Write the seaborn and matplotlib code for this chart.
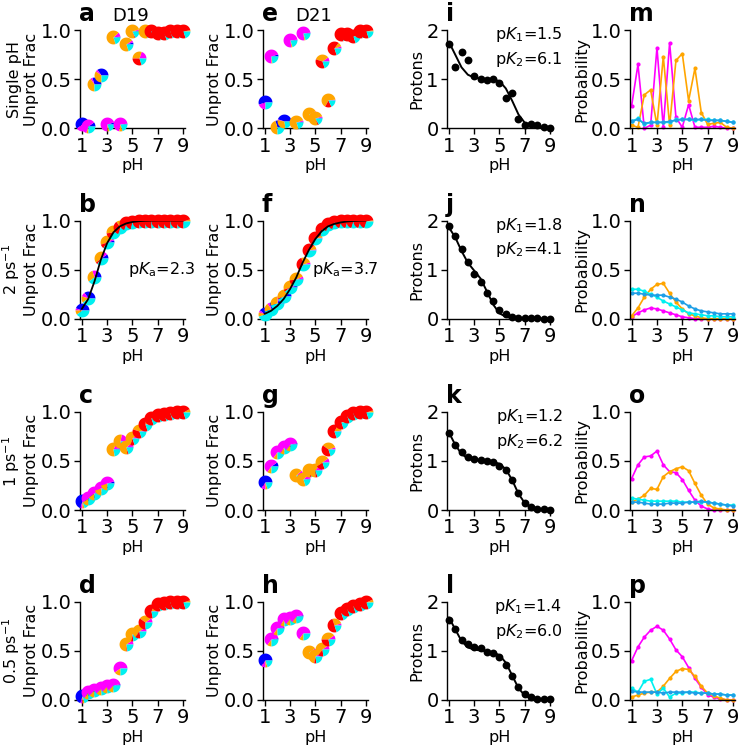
"""Constant-pH titration panels: pie-marker fractions, proton counts, state probabilities."""

import matplotlib

matplotlib.use("Agg")
import matplotlib.pyplot as plt
import numpy as np
import seaborn as sns


BLUE = "#0000FF"
MAGENTA = "#FF00FF"
ORANGE = "#FFA500"
RED = "#FF0000"
CYAN = "#00F0F0"
SKY = "#1E9FE6"
PIE_COLORS = [BLUE, MAGENTA, ORANGE, RED, CYAN]

PH = [1.0, 1.5, 2.0, 2.5, 3.0, 3.5, 4.0, 4.5, 5.0, 5.5, 6.0, 6.5, 7.0, 7.5, 8.0, 8.5, 9.0]

# unprotonated fraction, D19 column
A_FRAC = [0.04, 0.02, 0.45, 0.54, 0.04, 0.93, 0.04, 0.86, 0.99, 0.72, 0.99, 0.99, 0.97, 0.97, 0.99, 0.99, 0.99]
B_FRAC = [0.09, 0.21, 0.42, 0.62, 0.78, 0.88, 0.93, 0.97, 0.98, 0.99, 1.0, 1.0, 1.0, 1.0, 1.0, 1.0, 1.0]
C_FRAC = [0.09, 0.12, 0.17, 0.22, 0.27, 0.62, 0.70, 0.64, 0.73, 0.80, 0.88, 0.94, 0.97, 0.98, 0.99, 1.0, 1.0]
D_FRAC = [0.04, 0.08, 0.10, 0.12, 0.14, 0.15, 0.33, 0.57, 0.67, 0.70, 0.79, 0.91, 0.98, 0.99, 1.0, 1.0, 1.0]
# unprotonated fraction, D21 column
E_FRAC = [0.27, 0.74, 0.01, 0.07, 0.90, 0.06, 0.97, 0.15, 0.10, 0.68, 0.29, 0.82, 0.96, 0.96, 0.94, 0.99, 0.99]
F_FRAC = [0.05, 0.10, 0.16, 0.23, 0.32, 0.40, 0.56, 0.70, 0.82, 0.91, 0.96, 0.98, 0.99, 1.0, 1.0, 1.0, 1.0]
G_FRAC = [0.29, 0.45, 0.59, 0.64, 0.67, 0.36, 0.32, 0.41, 0.41, 0.49, 0.62, 0.80, 0.90, 0.96, 0.99, 1.0, 1.0]
H_FRAC = [0.41, 0.62, 0.73, 0.82, 0.83, 0.85, 0.68, 0.49, 0.45, 0.52, 0.62, 0.76, 0.89, 0.93, 0.96, 0.98, 1.0]

B_FIT = [0.10, 0.20, 0.38, 0.60, 0.77, 0.88, 0.94, 0.97, 0.985, 0.993, 0.997, 0.999, 1.0, 1.0, 1.0, 1.0, 1.0]
F_FIT = [0.05, 0.08, 0.13, 0.20, 0.30, 0.42, 0.57, 0.70, 0.81, 0.89, 0.94, 0.965, 0.98, 0.99, 0.995, 0.998, 1.0]
B_PKA = "2.3"
F_PKA = "3.7"

# pie wedge shares: blue, magenta, orange, red, cyan
A_PIE = [[0.6, 0.2, 0, 0, 0.2], [0.1, 0.6, 0.05, 0, 0.25], [0.3, 0.05, 0.4, 0, 0.25], [0.35, 0.05, 0.35, 0, 0.25],
         [0.05, 0.7, 0.05, 0, 0.2], [0.02, 0.1, 0.68, 0, 0.2], [0.02, 0.7, 0.08, 0, 0.2], [0.05, 0.05, 0.7, 0, 0.2],
         [0.02, 0.03, 0.75, 0.02, 0.18], [0, 0.2, 0.3, 0.3, 0.2], [0, 0.02, 0.78, 0, 0.2], [0, 0, 0.1, 0.7, 0.2],
         [0, 0, 0.05, 0.75, 0.2], [0, 0, 0.05, 0.75, 0.2], [0, 0, 0.05, 0.75, 0.2], [0, 0, 0.03, 0.77, 0.2],
         [0, 0, 0.03, 0.77, 0.2]]
B_PIE = [[0.45, 0.05, 0.1, 0, 0.4], [0.35, 0.1, 0.15, 0, 0.4], [0.2, 0.1, 0.3, 0, 0.4], [0.1, 0.1, 0.4, 0.05, 0.35],
         [0.05, 0.05, 0.45, 0.1, 0.35], [0.02, 0.05, 0.45, 0.15, 0.33], [0.02, 0.03, 0.3, 0.35, 0.3],
         [0, 0.02, 0.15, 0.53, 0.3], [0, 0.01, 0.1, 0.6, 0.29], [0, 0, 0.05, 0.7, 0.25], [0, 0, 0.05, 0.7, 0.25],
         [0, 0, 0.05, 0.7, 0.25], [0, 0, 0.05, 0.7, 0.25], [0, 0, 0.05, 0.7, 0.25], [0, 0, 0.05, 0.7, 0.25],
         [0, 0, 0.05, 0.7, 0.25], [0, 0, 0.05, 0.7, 0.25]]
C_PIE = [[0.7, 0.05, 0.05, 0, 0.2], [0.15, 0.45, 0.15, 0, 0.25], [0.1, 0.5, 0.15, 0, 0.25], [0.05, 0.5, 0.2, 0, 0.25],
         [0.05, 0.5, 0.2, 0, 0.25], [0.03, 0.15, 0.6, 0, 0.22], [0.02, 0.2, 0.55, 0.03, 0.2], [0.02, 0.1, 0.65, 0.03, 0.2],
         [0, 0.1, 0.6, 0.1, 0.2], [0, 0.05, 0.4, 0.35, 0.2], [0, 0.03, 0.2, 0.57, 0.2], [0, 0, 0.08, 0.72, 0.2],
         [0, 0, 0.08, 0.72, 0.2], [0, 0, 0.08, 0.72, 0.2], [0, 0, 0.08, 0.72, 0.2], [0, 0, 0.08, 0.72, 0.2],
         [0, 0, 0.08, 0.72, 0.2]]
D_PIE = [[0.7, 0.05, 0.05, 0, 0.2], [0.05, 0.6, 0.1, 0, 0.25], [0.03, 0.6, 0.12, 0, 0.25], [0.03, 0.6, 0.12, 0, 0.25],
         [0.03, 0.6, 0.12, 0, 0.25], [0.03, 0.6, 0.12, 0, 0.25], [0, 0.6, 0.15, 0, 0.25], [0, 0.1, 0.65, 0.02, 0.23],
         [0, 0.1, 0.62, 0.05, 0.23], [0, 0.1, 0.55, 0.12, 0.23], [0, 0.1, 0.3, 0.35, 0.25], [0, 0.03, 0.15, 0.6, 0.22],
         [0, 0, 0.05, 0.75, 0.2], [0, 0, 0.05, 0.75, 0.2], [0, 0, 0.05, 0.75, 0.2], [0, 0, 0.05, 0.75, 0.2],
         [0, 0, 0.05, 0.75, 0.2]]
E_PIE = [[0.55, 0.2, 0, 0, 0.25], [0.05, 0.7, 0.02, 0, 0.23], [0.3, 0, 0.45, 0, 0.25], [0.45, 0.02, 0.3, 0, 0.23],
         [0.02, 0.75, 0.03, 0, 0.2], [0.02, 0.03, 0.75, 0, 0.2], [0.02, 0.75, 0.03, 0, 0.2], [0.03, 0.05, 0.72, 0.02, 0.18],
         [0.02, 0.03, 0.75, 0.03, 0.17], [0, 0.1, 0.35, 0.35, 0.2], [0, 0.02, 0.65, 0.15, 0.18], [0, 0.05, 0.1, 0.65, 0.2],
         [0, 0, 0.03, 0.77, 0.2], [0, 0, 0.03, 0.77, 0.2], [0, 0, 0.03, 0.77, 0.2], [0, 0, 0.03, 0.77, 0.2],
         [0, 0, 0.03, 0.77, 0.2]]
F_PIE = [[0.4, 0.05, 0.1, 0, 0.45], [0.3, 0.05, 0.2, 0, 0.45], [0.2, 0.05, 0.3, 0, 0.45], [0.1, 0.05, 0.4, 0.02, 0.43],
         [0.05, 0.05, 0.45, 0.05, 0.4], [0.02, 0.05, 0.45, 0.1, 0.38], [0, 0.05, 0.25, 0.35, 0.35], [0, 0.03, 0.1, 0.52, 0.35],
         [0, 0.02, 0.05, 0.6, 0.33], [0, 0, 0.03, 0.67, 0.3], [0, 0, 0.03, 0.67, 0.3], [0, 0, 0.03, 0.67, 0.3],
         [0, 0, 0.03, 0.67, 0.3], [0, 0, 0.03, 0.67, 0.3], [0, 0, 0.03, 0.67, 0.3], [0, 0, 0.03, 0.67, 0.3],
         [0, 0, 0.03, 0.67, 0.3]]
G_PIE = [[0.65, 0.1, 0.05, 0, 0.2], [0.1, 0.55, 0.1, 0, 0.25], [0.05, 0.6, 0.1, 0, 0.25], [0.05, 0.6, 0.1, 0, 0.25],
         [0.03, 0.62, 0.1, 0, 0.25], [0.02, 0.1, 0.68, 0, 0.2], [0.02, 0.1, 0.68, 0, 0.2], [0.02, 0.15, 0.6, 0.03, 0.2],
         [0, 0.15, 0.6, 0.05, 0.2], [0, 0.1, 0.5, 0.2, 0.2], [0, 0.05, 0.35, 0.4, 0.2], [0, 0.02, 0.15, 0.63, 0.2],
         [0, 0, 0.05, 0.75, 0.2], [0, 0, 0.05, 0.75, 0.2], [0, 0, 0.05, 0.75, 0.2], [0, 0, 0.05, 0.75, 0.2],
         [0, 0, 0.05, 0.75, 0.2]]
H_PIE = [[0.65, 0.1, 0.05, 0, 0.2], [0.03, 0.62, 0.1, 0, 0.25], [0.03, 0.62, 0.1, 0, 0.25], [0.03, 0.62, 0.1, 0, 0.25],
         [0.03, 0.62, 0.1, 0, 0.25], [0.03, 0.62, 0.1, 0, 0.25], [0, 0.65, 0.1, 0, 0.25], [0, 0.1, 0.65, 0.02, 0.23],
         [0, 0.1, 0.62, 0.05, 0.23], [0, 0.1, 0.55, 0.12, 0.23], [0, 0.1, 0.4, 0.28, 0.22], [0, 0.05, 0.25, 0.5, 0.2],
         [0, 0, 0.07, 0.73, 0.2], [0, 0, 0.07, 0.73, 0.2], [0, 0, 0.07, 0.73, 0.2], [0, 0, 0.07, 0.73, 0.2],
         [0, 0, 0.07, 0.73, 0.2]]

# protons bound
I_PTS = [1.71, 1.25, 1.56, 1.39, 1.06, 1.00, 0.99, 1.00, 0.93, 0.61, 0.72, 0.19, 0.06, 0.08, 0.07, 0.02, 0.01]
J_PTS = [1.88, 1.69, 1.42, 1.15, 0.92, 0.74, 0.52, 0.37, 0.18, 0.10, 0.04, 0.02, 0.01, 0.01, 0.01, 0.0, 0.0]
K_PTS = [1.56, 1.32, 1.19, 1.07, 1.04, 1.02, 1.00, 0.97, 0.90, 0.81, 0.62, 0.35, 0.15, 0.07, 0.03, 0.02, 0.01]
L_PTS = [1.63, 1.45, 1.22, 1.13, 1.07, 1.05, 0.98, 0.95, 0.88, 0.71, 0.48, 0.27, 0.13, 0.07, 0.02, 0.01, 0.01]
I_FIT = [1.76, 1.50, 1.24, 1.09, 1.03, 1.01, 1.0, 0.99, 0.96, 0.81, 0.56, 0.28, 0.11, 0.04, 0.013, 0.004, 0.001]
J_FIT = [1.86, 1.66, 1.38, 1.14, 0.98, 0.82, 0.56, 0.29, 0.11, 0.04, 0.013, 0.004, 0.001, 0.0, 0.0, 0.0, 0.0]
K_FIT = [1.58, 1.33, 1.14, 1.05, 1.02, 1.005, 0.995, 0.98, 0.94, 0.83, 0.61, 0.33, 0.14, 0.05, 0.016, 0.005, 0.001]
L_FIT = [1.68, 1.44, 1.20, 1.07, 1.025, 1.008, 0.99, 0.97, 0.91, 0.76, 0.50, 0.24, 0.09, 0.03, 0.01, 0.003, 0.001]
PK_TEXT = [("1.5", "6.1"), ("1.8", "4.1"), ("1.2", "6.2"), ("1.4", "6.0")]

# state probabilities: magenta, orange, cyan, sky
M_MAG = [0.23, 0.65, 0.0, 0.03, 0.82, 0.01, 0.87, 0.11, 0.01, 0.24, 0.01, 0.01, 0.01, 0.02, 0.01, 0.0, 0.0]
M_ORA = [0.03, 0.01, 0.34, 0.39, 0.03, 0.73, 0.03, 0.69, 0.76, 0.28, 0.61, 0.16, 0.04, 0.05, 0.06, 0.01, 0.0]
M_CYA = [0.07, 0.10, 0.04, 0.06, 0.06, 0.06, 0.06, 0.09, 0.09, 0.09, 0.08, 0.09, 0.09, 0.08, 0.08, 0.07, 0.06]
M_SKY = [0.07, 0.09, 0.05, 0.06, 0.06, 0.06, 0.07, 0.08, 0.09, 0.09, 0.09, 0.09, 0.08, 0.08, 0.08, 0.07, 0.06]
N_MAG = [0.02, 0.06, 0.09, 0.11, 0.10, 0.08, 0.06, 0.04, 0.02, 0.01, 0.0, 0.0, 0.0, 0.0, 0.0, 0.0, 0.0]
N_ORA = [0.03, 0.11, 0.22, 0.30, 0.35, 0.36, 0.26, 0.17, 0.10, 0.05, 0.03, 0.01, 0.0, 0.0, 0.0, 0.0, 0.0]
N_CYA = [0.30, 0.30, 0.28, 0.25, 0.22, 0.18, 0.15, 0.12, 0.09, 0.06, 0.05, 0.04, 0.03, 0.03, 0.02, 0.02, 0.02]
N_SKY = [0.26, 0.26, 0.25, 0.24, 0.24, 0.24, 0.22, 0.20, 0.17, 0.13, 0.10, 0.08, 0.07, 0.06, 0.05, 0.05, 0.05]
O_MAG = [0.32, 0.46, 0.54, 0.55, 0.60, 0.46, 0.39, 0.38, 0.31, 0.20, 0.10, 0.04, 0.01, 0.0, 0.0, 0.0, 0.0]
O_ORA = [0.08, 0.11, 0.15, 0.22, 0.21, 0.34, 0.39, 0.42, 0.44, 0.40, 0.27, 0.15, 0.06, 0.02, 0.01, 0.0, 0.0]
O_CYA = [0.12, 0.11, 0.10, 0.09, 0.09, 0.09, 0.09, 0.09, 0.08, 0.08, 0.08, 0.08, 0.08, 0.07, 0.06, 0.05, 0.05]
O_SKY = [0.08, 0.08, 0.07, 0.06, 0.06, 0.06, 0.07, 0.07, 0.07, 0.08, 0.08, 0.09, 0.08, 0.07, 0.06, 0.05, 0.04]
P_MAG = [0.40, 0.54, 0.64, 0.71, 0.75, 0.71, 0.62, 0.51, 0.44, 0.33, 0.22, 0.13, 0.05, 0.03, 0.01, 0.0, 0.0]
P_ORA = [0.03, 0.05, 0.07, 0.08, 0.08, 0.14, 0.22, 0.29, 0.32, 0.31, 0.24, 0.14, 0.07, 0.04, 0.02, 0.0, 0.0]
P_CYA = [0.12, 0.08, 0.19, 0.21, 0.06, 0.12, 0.03, 0.07, 0.07, 0.08, 0.08, 0.07, 0.07, 0.06, 0.06, 0.05, 0.05]
P_SKY = [0.09, 0.08, 0.08, 0.08, 0.08, 0.07, 0.08, 0.08, 0.08, 0.08, 0.07, 0.07, 0.07, 0.06, 0.06, 0.05, 0.05]

ROW_NAMES = ["Single pH", "2 ps$^{-1}$", "1 ps$^{-1}$", "0.5 ps$^{-1}$"]

LEFTS = [0.108, 0.355, 0.604, 0.851]
BOTTOMS = [0.829, 0.575, 0.320, 0.0667]
WIDTH, HEIGHT = 0.142, 0.131
PIE_D = 10.0  # pie diameter in points
TICK_FS = 14
LABEL_FS = 11.5


def pie_markers(ax, xs, ys, shares):
    for x, y, share in zip(xs, ys, shares):
        share = np.asarray(share, dtype=float)
        share = share / share.sum()
        start = 0.0
        for frac, color in zip(share, PIE_COLORS):
            if frac <= 0:
                continue
            theta = np.linspace(2 * np.pi * start, 2 * np.pi * (start + frac), max(4, int(80 * frac)))
            verts = np.column_stack([np.r_[0, np.cos(theta), 0], np.r_[0, np.sin(theta), 0]])
            m = np.abs(verts).max()
            ax.scatter([x], [y], marker=verts, s=(PIE_D * m) ** 2, color=color,
                       linewidths=0, clip_on=False, zorder=3)
            start += frac


def style_axes(ax, letter, ylabel, yticks, yticklabels, ylim):
    ax.set_xlim(0.85, 9.15)
    ax.set_ylim(*ylim)
    ax.set_xticks([1, 3, 5, 7, 9])
    ax.set_yticks(yticks)
    ax.set_yticklabels(yticklabels)
    ax.set_xlabel("pH", fontsize=LABEL_FS, labelpad=2)
    ax.set_ylabel(ylabel, fontsize=LABEL_FS, labelpad=1)
    ax.tick_params(labelsize=TICK_FS, length=4, width=1, pad=2)
    sns.despine(ax=ax)
    ax.text(-0.01, 1.09, letter, transform=ax.transAxes, fontsize=17, fontweight="bold",
            ha="left", va="baseline")


def main():
    sns.set_theme(style="ticks")
    plt.rcParams["font.family"] = ["DejaVu Sans"]
    plt.rcParams.update({
        "axes.linewidth": 1.0,
        "axes.edgecolor": "black",
        "axes.labelcolor": "black",
        "text.color": "black",
        "xtick.color": "black",
        "ytick.color": "black",
    })
    fig = plt.figure(figsize=(7.4, 7.5), dpi=100)

    col1 = [(A_FRAC, A_PIE, None, None), (B_FRAC, B_PIE, B_FIT, B_PKA),
            (C_FRAC, C_PIE, None, None), (D_FRAC, D_PIE, None, None)]
    col2 = [(E_FRAC, E_PIE, None, None), (F_FRAC, F_PIE, F_FIT, F_PKA),
            (G_FRAC, G_PIE, None, None), (H_FRAC, H_PIE, None, None)]
    col3 = [(I_PTS, I_FIT), (J_PTS, J_FIT), (K_PTS, K_FIT), (L_PTS, L_FIT)]
    col4 = [(M_MAG, M_ORA, M_CYA, M_SKY), (N_MAG, N_ORA, N_CYA, N_SKY),
            (O_MAG, O_ORA, O_CYA, O_SKY), (P_MAG, P_ORA, P_CYA, P_SKY)]
    letters = ["abcd", "efgh", "ijkl", "mnop"]

    for r in range(4):
        for c, (cdata, title) in enumerate([(col1, "D19"), (col2, "D21")]):
            ax = fig.add_axes([LEFTS[c], BOTTOMS[r], WIDTH, HEIGHT])
            frac, pies, fit, pka = cdata[r]
            pie_markers(ax, PH, frac, pies)
            if fit is not None:
                sns.lineplot(x=PH, y=fit, color="black", linewidth=1.3, ax=ax, zorder=5)
                ax.text(1.1, 0.5, r"p$K_\mathrm{a}$=" + pka, transform=ax.transAxes,
                        fontsize=LABEL_FS, ha="right", va="center")
            ylabel = "Unprot Frac" if c == 1 else ROW_NAMES[r] + "\nUnprot Frac"
            style_axes(ax, letters[c][r], ylabel, [0, 0.5, 1.0], ["0.0", "0.5", "1.0"], (0, 1))
            if r == 0:
                ax.text(0.31, 1.09, title, transform=ax.transAxes, fontsize=13,
                        ha="left", va="baseline")

        ax = fig.add_axes([LEFTS[2], BOTTOMS[r], WIDTH, HEIGHT])
        pts, fit = col3[r]
        sns.lineplot(x=PH, y=fit, color="black", linewidth=1.4, ax=ax)
        sns.scatterplot(x=PH, y=pts, color="black", s=32, linewidth=0, ax=ax, zorder=4, clip_on=False)
        pk1, pk2 = PK_TEXT[r]
        ax.text(1.1, 0.95, r"p$K_1$=" + pk1, transform=ax.transAxes, fontsize=LABEL_FS,
                ha="right", va="center")
        ax.text(1.1, 0.7, r"p$K_2$=" + pk2, transform=ax.transAxes, fontsize=LABEL_FS,
                ha="right", va="center")
        style_axes(ax, letters[2][r], "Protons", [0, 1, 2], ["0", "1", "2"], (0, 2))

        ax = fig.add_axes([LEFTS[3], BOTTOMS[r], WIDTH, HEIGHT])
        for vals, color in zip(col4[r], [MAGENTA, ORANGE, CYAN, SKY]):
            sns.lineplot(x=PH, y=vals, color=color, linewidth=1.2, marker="o", markersize=3,
                         markeredgewidth=0, ax=ax, clip_on=False)
        style_axes(ax, letters[3][r], "Probability", [0, 0.5, 1.0], ["0.0", "0.5", "1.0"], (0, 1))

    fig.savefig("out.png", dpi=100)
    plt.close(fig)


if __name__ == "__main__":
    main()
